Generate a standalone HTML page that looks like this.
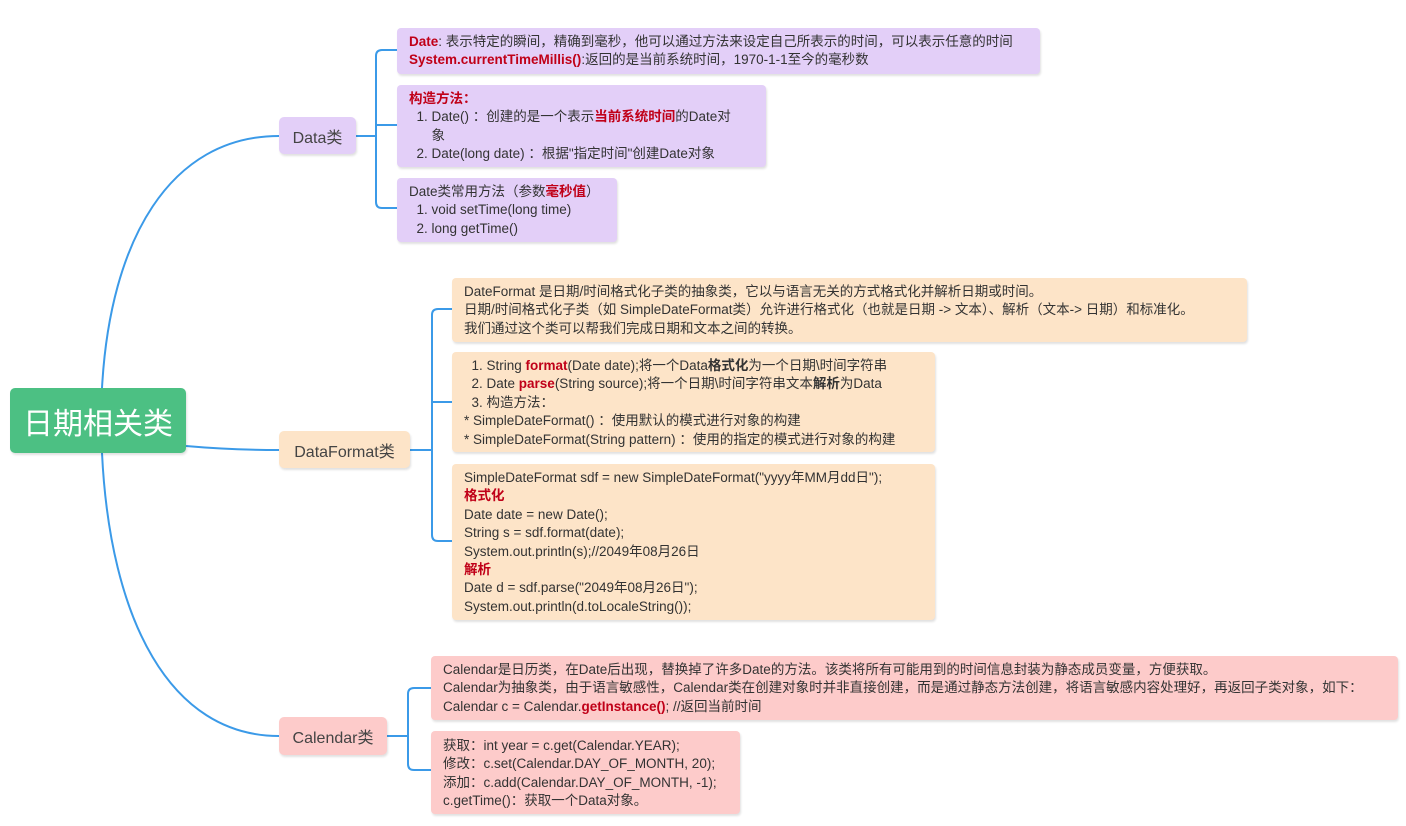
<!DOCTYPE html>
<html><head><meta charset="utf-8"><style>
body{margin:0;width:1406px;height:826px;background:#fff;position:relative;overflow:hidden;font-family:"Liberation Sans","Noto Sans CJK SC",sans-serif;color:#333;}
.b{position:absolute;box-sizing:border-box;border-radius:4px;font-size:13.5px;line-height:18.4px;padding:5px 12px;white-space:nowrap;box-shadow:1px 2px 2px rgba(0,0,0,0.12);}
.p{background:#e3cff8}.o{background:#fde4c8}.k{background:#fdcbca}
.r{color:#c00018;font-weight:bold}
.bo{font-weight:bold}
.n{position:absolute;box-sizing:border-box;border-radius:5px;font-size:16px;display:flex;align-items:center;justify-content:center;color:#444;box-shadow:1px 2px 2px rgba(0,0,0,0.12);}
svg{position:absolute;left:0;top:0}
</style></head><body>
<svg width="1406" height="826" fill="none" stroke="#3b9ae8" stroke-width="2">
<path d="M102 388 C110 240 170 136 279 136"/>
<path d="M102 453 C110 620 170 736 279 736"/>
<path d="M186 446 C220 449 250 450 279 450"/>
<path d="M356 136 H376 M397 50 H382 Q376 50 376 56 V202 Q376 208 382 208 H397 M376 125 H397"/>
<path d="M410 450 H432 M452 309 H438 Q432 309 432 315 V535 Q432 541 438 541 H452 M432 402 H452"/>
<path d="M387 736 H408 M431 688 H414 Q408 688 408 694 V764 Q408 770 414 770 H431"/>
</svg>
<div class="n" style="left:10px;top:388px;width:176px;height:65px;background:#4cc083;color:#fff;font-size:30px;">日期相关类</div>
<div class="n p" style="left:279px;top:117px;width:77px;height:37px;">Data类</div>
<div class="n o" style="left:279px;top:431px;width:131px;height:37px;">DataFormat类</div>
<div class="n k" style="left:279px;top:717px;width:108px;height:38px;">Calendar类</div>

<div class="b p" style="left:397px;top:28px;width:643px;height:46px;"><span class="r">Date</span>: 表示特定的瞬间，精确到毫秒，他可以通过方法来设定自己所表示的时间，可以表示任意的时间<br><span class="r">System.currentTimeMillis()</span>:返回的是当前系统时间，1970-1-1至今的毫秒数</div>
<div class="b p" style="left:397px;top:85px;width:369px;height:82px;"><span class="r">构造方法：</span><br>&nbsp;&nbsp;1. Date() ：创建的是一个表示<span class="r">当前系统时间</span>的Date对<br>&nbsp;&nbsp;&nbsp;&nbsp;&nbsp;&nbsp;象<br>&nbsp;&nbsp;2. Date(long date) ：根据"指定时间"创建Date对象</div>
<div class="b p" style="left:397px;top:178px;width:220px;height:64px;">Date类常用方法（参数<span class="r">毫秒值</span>）<br>&nbsp;&nbsp;1. void setTime(long time)<br>&nbsp;&nbsp;2. long getTime()</div>

<div class="b o" style="left:452px;top:278px;width:795px;height:64px;">DateFormat 是日期/时间格式化子类的抽象类，它以与语言无关的方式格式化并解析日期或时间。<br>日期/时间格式化子类（如 SimpleDateFormat类）允许进行格式化（也就是日期 -&gt; 文本）、解析（文本-&gt; 日期）和标准化。<br>我们通过这个类可以帮我们完成日期和文本之间的转换。</div>
<div class="b o" style="left:452px;top:352px;width:483px;height:100px;">&nbsp;&nbsp;1. String <span class="r">format</span>(Date date);将一个Data<span class="bo">格式化</span>为一个日期\时间字符串<br>&nbsp;&nbsp;2. Date <span class="r">parse</span>(String source);将一个日期\时间字符串文本<span class="bo">解析</span>为Data<br>&nbsp;&nbsp;3. 构造方法：<br>* SimpleDateFormat() ：使用默认的模式进行对象的构建<br>* SimpleDateFormat(String pattern) ：使用的指定的模式进行对象的构建</div>
<div class="b o" style="left:452px;top:464px;width:483px;height:156px;">SimpleDateFormat sdf = new SimpleDateFormat("yyyy年MM月dd日");<br><span class="r">格式化</span><br>Date date = new Date();<br>String s = sdf.format(date);<br>System.out.println(s);//2049年08月26日<br><span class="r">解析</span><br>Date d = sdf.parse("2049年08月26日");<br>System.out.println(d.toLocaleString());</div>

<div class="b k" style="left:431px;top:656px;width:967px;height:64px;">Calendar是日历类，在Date后出现，替换掉了许多Date的方法。该类将所有可能用到的时间信息封装为静态成员变量，方便获取。<br>Calendar为抽象类，由于语言敏感性，Calendar类在创建对象时并非直接创建，而是通过静态方法创建，将语言敏感内容处理好，再返回子类对象，如下：<br>Calendar c = Calendar.<span class="r">getInstance()</span>; //返回当前时间</div>
<div class="b k" style="left:431px;top:731px;width:309px;height:83px;padding-top:6px;">获取：int year = c.get(Calendar.YEAR);<br>修改：c.set(Calendar.DAY_OF_MONTH, 20);<br>添加：c.add(Calendar.DAY_OF_MONTH, -1);<br>c.getTime()：获取一个Data对象。</div>
</body></html>
